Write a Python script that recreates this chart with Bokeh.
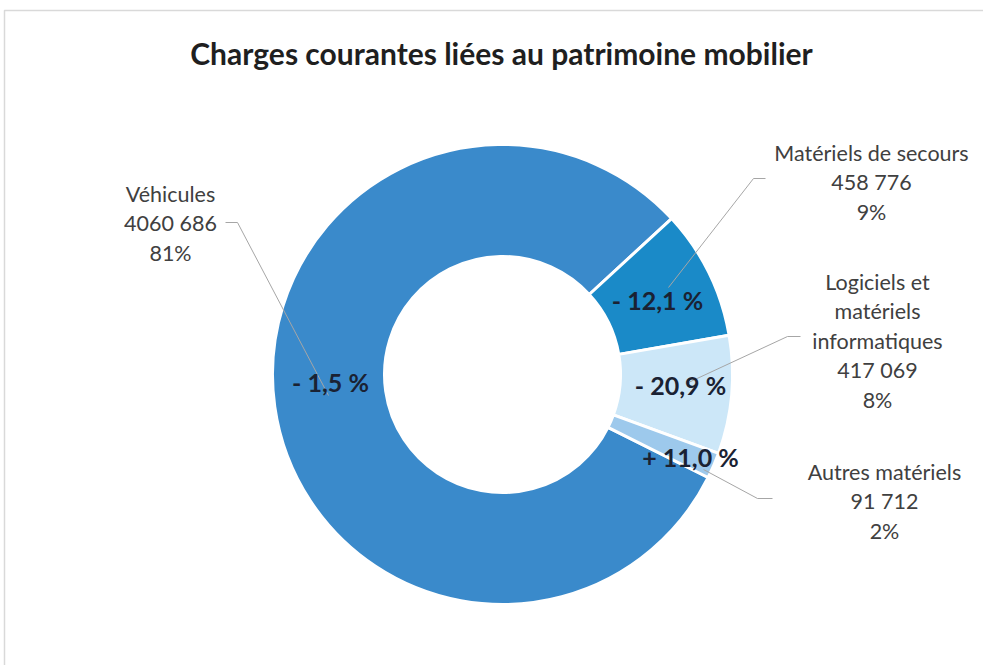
import math
from bokeh.plotting import figure
from bokeh.models import Range1d
from bokeh.core.properties import value
from bokeh.embed import file_html
from bokeh.resources import INLINE

# ---- data ----
categories = ["Véhicules", "Matériels de secours", "Logiciels et matériels informatiques", "Autres matériels"]
label_lines = [
    ["Véhicules"],
    ["Matériels de secours"],
    ["Logiciels et", "matériels", "informatiques"],
    ["Autres matériels"],
]
amounts = [4060686, 458776, 417069, 91712]
amount_labels = ["4060 686", "458 776", "417 069", "91 712"]
share_labels = ["81%", "9%", "8%", "2%"]
changes = ["- 1,5 %", "- 12,1 %", "- 20,9 %", "+ 11,0 %"]
colors = ["#3a8acb", "#1a8ac8", "#cce7f8", "#9dc9ec"]
title = "Charges courantes liées au patrimoine mobilier"

# ---- layout ----
W, H = 983, 665
def X(px): return px
def Y(py): return H - py

p = figure(width=W, height=H, output_backend="svg", toolbar_location=None,
           x_range=Range1d(0, W), y_range=Range1d(0, H), min_border=0)
p.axis.visible = False
p.grid.visible = False
p.outline_line_color = None
p.background_fill_color = "white"
p.border_fill_color = "white"

# frame border (left and top)
p.line([X(4), X(4), W + 5], [-5, Y(10), Y(10)], line_color="#d9d9d9", line_width=1.5)

# donut
cx, cy = X(502), Y(374)
R_out, R_in = 230, 118
first_angle = 116.6  # degrees clockwise from 12 o'clock
total = float(sum(amounts))
starts, ends = [], []
theta = first_angle
for a in amounts:
    span = a / total * 360.0
    t1, t2 = theta, theta + span
    starts.append(math.radians(90 - t2))
    ends.append(math.radians(90 - t1))
    theta = t2

p.annular_wedge(x=cx, y=cy, inner_radius=R_in, outer_radius=R_out,
                start_angle=starts, end_angle=ends, fill_color=colors,
                line_color="white", line_width=3)

# leader lines (page coords)
leaders = [
    [(225, 222), (237, 222), (328, 395)],
    [(765, 178), (753, 178), (668, 287)],
    [(800, 336), (787, 336), (688, 382)],
    [(772, 498), (757, 498), (703, 469)],
]
for pts in leaders:
    p.line([X(a) for a, b in pts], [Y(b) for a, b in pts], line_color="#a6a6a6", line_width=1)

# change labels inside slices
chg_pos = [(330, 381), (657, 299), (680, 384), (690, 456)]
p.text(x=[X(a) for a, b in chg_pos], y=[Y(b) for a, b in chg_pos], text=changes,
       text_font=value("Lato"), text_font_style="bold", text_font_size="25px",
       text_color="#1a2233", text_align="center", text_baseline="middle")

# category labels
lab_pos = [(170, 193), (871, 152), (877, 281), (884, 471)]
LH = 29.5
xs, ys, ts = [], [], []
for (lx, ly), lines, amt, sh in zip(lab_pos, label_lines, amount_labels, share_labels):
    for i, t in enumerate(lines + [amt, sh]):
        xs.append(X(lx)); ys.append(Y(ly + i * LH)); ts.append(t)
p.text(x=xs, y=ys, text=ts, text_font=value("Lato"), text_font_size="21.5px",
       text_color="#404040", text_align="center", text_baseline="middle")

# title
p.text(x=[X(501)], y=[Y(52)], text=[title], text_font=value("Lato"), text_font_style="bold",
       text_font_size="30px", text_color="#1f1f1f", text_align="center", text_baseline="middle")

open("out.html", "w").write(file_html(p, INLINE))
